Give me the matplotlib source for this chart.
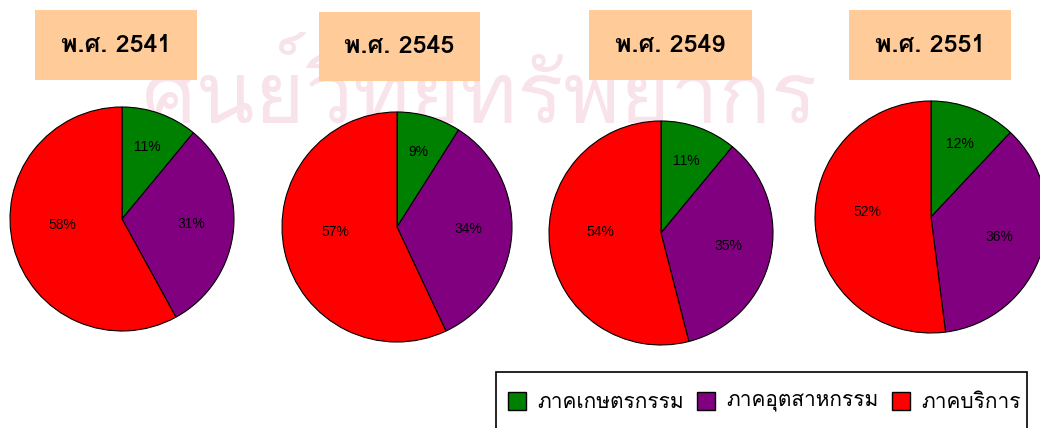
import matplotlib
matplotlib.use("Agg")
import matplotlib.pyplot as plt
from matplotlib.patches import Rectangle

years = ['พ.ศ. 2541', 'พ.ศ. 2545', 'พ.ศ. 2549', 'พ.ศ. 2551']
sectors = ['ภาคเกษตรกรรม', 'ภาคอุตสาหกรรม', 'ภาคบริการ']
agri = [11, 9, 11, 12]
industry = [31, 34, 35, 36]
service = [58, 57, 54, 52]
colors = ['#008000', '#800080', '#FF0000']

THAI = ['Loma', 'DejaVu Sans']

W, H = 1040, 428
fig = plt.figure(figsize=(W / 100, H / 100), dpi=100)
ax = fig.add_axes([0, 0, 1, 1])

# faint watermark of the scanned page
ax.text(480, H - 88, 'ศูนย์วิทยทรัพยากร', ha='center', va='center', fontsize=62,
        color='#F9E3EA', family=THAI, zorder=0)

# pie centres / radii and title boxes in image pixels (y from top)
centres = [(122, 219), (397, 227), (661, 233), (931, 217)]
radii = [112, 115, 112, 116]
boxes = [(35, 10, 162, 70), (319, 12, 161, 69), (589, 10, 163, 70), (849, 10, 162, 70)]
pct_dist = [0.68, 0.62, 0.55]
pct_lift = [0, 2, 9]

for i in range(4):
    cx, cy = centres[i]
    wedges, texts, autotexts = ax.pie(
        [agri[i], industry[i], service[i]], colors=colors,
        center=(cx, H - cy), radius=radii[i], startangle=90, counterclock=False,
        autopct='%.0f%%', pctdistance=1.0,
        wedgeprops=dict(edgecolor='black', linewidth=0.8),
        textprops=dict(fontsize=10, color='black', family='Liberation Sans'))
    # pull each percent label in towards the centre
    for t, k, up in zip(autotexts, pct_dist, pct_lift):
        tx, ty = t.get_position()
        t.set_position((cx + (tx - cx) * k, H - cy + (ty - (H - cy)) * k + up))
    bx, by, bw, bh = boxes[i]
    ax.add_patch(Rectangle((bx, H - by - bh), bw, bh, facecolor='#FFCC99',
                           edgecolor='none', zorder=3))
    ax.text(bx + bw / 2, H - by - bh / 2, years[i], ha='center', va='center',
            fontsize=18, fontweight='bold', family=THAI, zorder=4)

# legend box
ax.add_patch(Rectangle((496, -10), 531, H - 372 + 10, facecolor='white',
                       edgecolor='black', linewidth=1.2, zorder=3))
sq_x = [508, 697, 892]
for i in range(3):
    ax.add_patch(Rectangle((sq_x[i], H - 410), 18, 18, facecolor=colors[i],
                           edgecolor='black', linewidth=1, zorder=4))
    ax.text(sq_x[i] + 29, H - 402, sectors[i], ha='left', va='center',
            fontsize=15, family=THAI, zorder=4)

ax.set_xlim(0, W)
ax.set_ylim(0, H)
ax.set_aspect('auto')
ax.axis('off')

fig.savefig('out.png', dpi=100)
